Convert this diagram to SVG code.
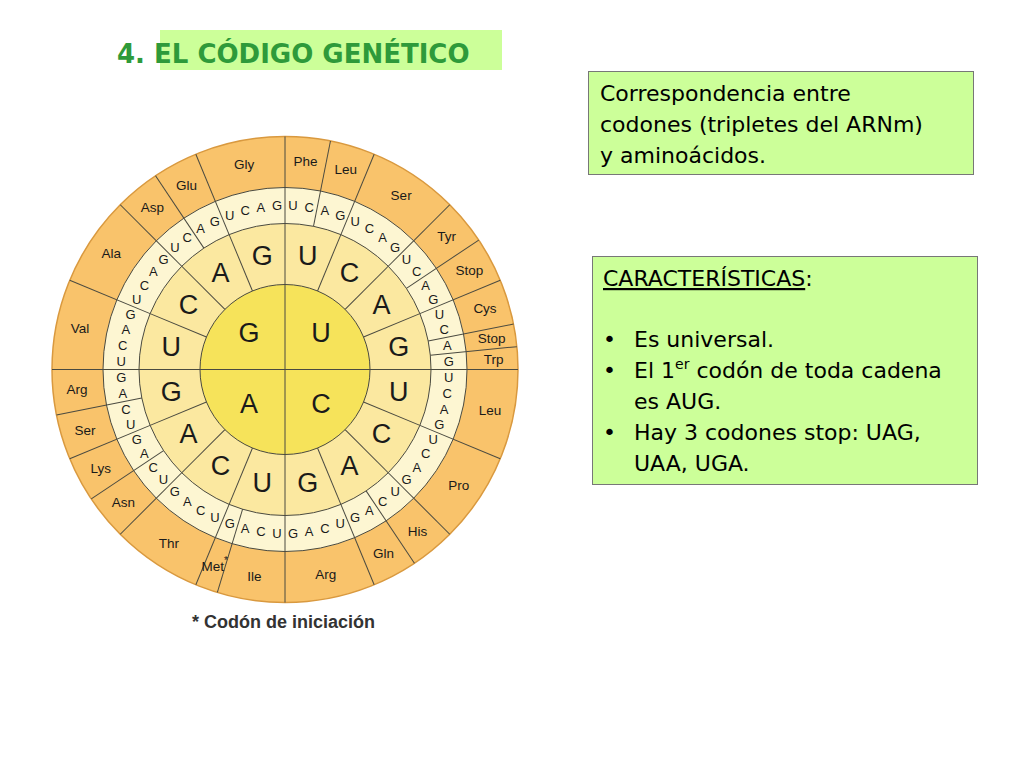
<svg xmlns="http://www.w3.org/2000/svg" xmlns:xlink="http://www.w3.org/1999/xlink" width="1024" height="768" viewBox="0 0 1024 768">
<style>
.w{font-family:"Liberation Sans",Arial,sans-serif;text-anchor:middle;dominant-baseline:central;fill:#1a1a1a}
.s{font-size:13px}.m{font-size:27px}.c{font-size:27px}.aa{font-size:13.5px}
.div{stroke:#4a4a40;stroke-width:1}
.t{font-family:"DejaVu Sans",Verdana,sans-serif;font-size:22px;fill:#000}
</style>
<defs>
<line id="la" class="div" x1="285" y1="223.5" x2="285" y2="136.5"/>
<line id="lb" class="div" x1="285" y1="284.5" x2="285" y2="223.5"/>
</defs>
<rect width="1024" height="768" fill="#fff"/>
<g id="title">
<rect x="160" y="30" width="342" height="40" fill="#ccff99"/>
<text x="117" y="63" font-family="'DejaVu Sans',Verdana,sans-serif" font-weight="bold" font-size="26" fill="#2e9a3a">4. EL CÓDIGO GENÉTICO</text>
</g>
<g id="wheel">
<circle cx="285" cy="369.5" r="233" fill="#f9c36b" stroke="#d9993f" stroke-width="1.5"/>
<circle cx="285" cy="369.5" r="182" fill="#fdf6d2" stroke="#4a4a40"/>
<circle cx="285" cy="369.5" r="146" fill="#fbe8a0" stroke="#4a4a40"/>
<circle cx="285" cy="369.5" r="85" fill="#f6e35a" stroke="#4a4a40"/>
</g>
<g id="connectors">
<line class="div" x1="52" y1="369.5" x2="518" y2="369.5"/>
<line class="div" x1="285" y1="136.5" x2="285" y2="602.5"/>
<use href="#la" transform="rotate(11.25 285 369.5)"/><use href="#la" transform="rotate(22.5 285 369.5)"/><use href="#la" transform="rotate(45 285 369.5)"/><use href="#la" transform="rotate(56.25 285 369.5)"/><use href="#la" transform="rotate(67.5 285 369.5)"/><use href="#la" transform="rotate(78.75 285 369.5)"/><use href="#la" transform="rotate(84.375 285 369.5)"/><use href="#la" transform="rotate(112.5 285 369.5)"/><use href="#la" transform="rotate(135 285 369.5)"/><use href="#la" transform="rotate(146.25 285 369.5)"/><use href="#la" transform="rotate(157.5 285 369.5)"/><use href="#la" transform="rotate(196.875 285 369.5)"/><use href="#la" transform="rotate(202.5 285 369.5)"/><use href="#la" transform="rotate(225 285 369.5)"/><use href="#la" transform="rotate(236.25 285 369.5)"/><use href="#la" transform="rotate(247.5 285 369.5)"/><use href="#la" transform="rotate(258.75 285 369.5)"/><use href="#la" transform="rotate(292.5 285 369.5)"/><use href="#la" transform="rotate(315 285 369.5)"/><use href="#la" transform="rotate(326.25 285 369.5)"/><use href="#la" transform="rotate(337.5 285 369.5)"/>
<use href="#lb" transform="rotate(22.5 285 369.5)"/><use href="#lb" transform="rotate(45 285 369.5)"/><use href="#lb" transform="rotate(67.5 285 369.5)"/><use href="#lb" transform="rotate(112.5 285 369.5)"/><use href="#lb" transform="rotate(135 285 369.5)"/><use href="#lb" transform="rotate(157.5 285 369.5)"/><use href="#lb" transform="rotate(202.5 285 369.5)"/><use href="#lb" transform="rotate(225 285 369.5)"/><use href="#lb" transform="rotate(247.5 285 369.5)"/><use href="#lb" transform="rotate(292.5 285 369.5)"/><use href="#lb" transform="rotate(315 285 369.5)"/><use href="#lb" transform="rotate(337.5 285 369.5)"/>
</g>
<g id="center-letters" class="w c">
<text x="249" y="333">G</text><text x="321" y="333">U</text><text x="321" y="404">C</text><text x="249" y="404">A</text>
</g>
<g id="second-letters" class="w m">
<text transform="rotate(11.25 285 369.5) translate(285 253.5) rotate(-11.25)">U</text>
<text transform="rotate(33.75 285 369.5) translate(285 253.5) rotate(-33.75)">C</text>
<text transform="rotate(56.25 285 369.5) translate(285 253.5) rotate(-56.25)">A</text>
<text transform="rotate(78.75 285 369.5) translate(285 253.5) rotate(-78.75)">G</text>
<text transform="rotate(101.25 285 369.5) translate(285 253.5) rotate(-101.25)">U</text>
<text transform="rotate(123.75 285 369.5) translate(285 253.5) rotate(-123.75)">C</text>
<text transform="rotate(146.25 285 369.5) translate(285 253.5) rotate(-146.25)">A</text>
<text transform="rotate(168.75 285 369.5) translate(285 253.5) rotate(-168.75)">G</text>
<text transform="rotate(191.25 285 369.5) translate(285 253.5) rotate(-191.25)">U</text>
<text transform="rotate(213.75 285 369.5) translate(285 253.5) rotate(-213.75)">C</text>
<text transform="rotate(236.25 285 369.5) translate(285 253.5) rotate(-236.25)">A</text>
<text transform="rotate(258.75 285 369.5) translate(285 253.5) rotate(-258.75)">G</text>
<text transform="rotate(281.25 285 369.5) translate(285 253.5) rotate(-281.25)">U</text>
<text transform="rotate(303.75 285 369.5) translate(285 253.5) rotate(-303.75)">C</text>
<text transform="rotate(326.25 285 369.5) translate(285 253.5) rotate(-326.25)">A</text>
<text transform="rotate(348.75 285 369.5) translate(285 253.5) rotate(-348.75)">G</text>
</g>
<g id="third-letters" class="w s">
<text transform="rotate(2.8125 285 369.5) translate(285 205.5) rotate(-2.8125)">U</text><text transform="rotate(8.4375 285 369.5) translate(285 205.5) rotate(-8.4375)">C</text><text transform="rotate(14.0625 285 369.5) translate(285 205.5) rotate(-14.0625)">A</text><text transform="rotate(19.6875 285 369.5) translate(285 205.5) rotate(-19.6875)">G</text>
<text transform="rotate(25.3125 285 369.5) translate(285 205.5) rotate(-25.3125)">U</text><text transform="rotate(30.9375 285 369.5) translate(285 205.5) rotate(-30.9375)">C</text><text transform="rotate(36.5625 285 369.5) translate(285 205.5) rotate(-36.5625)">A</text><text transform="rotate(42.1875 285 369.5) translate(285 205.5) rotate(-42.1875)">G</text>
<text transform="rotate(47.8125 285 369.5) translate(285 205.5) rotate(-47.8125)">U</text><text transform="rotate(53.4375 285 369.5) translate(285 205.5) rotate(-53.4375)">C</text><text transform="rotate(59.0625 285 369.5) translate(285 205.5) rotate(-59.0625)">A</text><text transform="rotate(64.6875 285 369.5) translate(285 205.5) rotate(-64.6875)">G</text>
<text transform="rotate(70.3125 285 369.5) translate(285 205.5) rotate(-70.3125)">U</text><text transform="rotate(75.9375 285 369.5) translate(285 205.5) rotate(-75.9375)">C</text><text transform="rotate(81.5625 285 369.5) translate(285 205.5) rotate(-81.5625)">A</text><text transform="rotate(87.1875 285 369.5) translate(285 205.5) rotate(-87.1875)">G</text>
<text transform="rotate(92.8125 285 369.5) translate(285 205.5) rotate(-92.8125)">U</text><text transform="rotate(98.4375 285 369.5) translate(285 205.5) rotate(-98.4375)">C</text><text transform="rotate(104.0625 285 369.5) translate(285 205.5) rotate(-104.0625)">A</text><text transform="rotate(109.6875 285 369.5) translate(285 205.5) rotate(-109.6875)">G</text>
<text transform="rotate(115.3125 285 369.5) translate(285 205.5) rotate(-115.3125)">U</text><text transform="rotate(120.9375 285 369.5) translate(285 205.5) rotate(-120.9375)">C</text><text transform="rotate(126.5625 285 369.5) translate(285 205.5) rotate(-126.5625)">A</text><text transform="rotate(132.1875 285 369.5) translate(285 205.5) rotate(-132.1875)">G</text>
<text transform="rotate(137.8125 285 369.5) translate(285 205.5) rotate(-137.8125)">U</text><text transform="rotate(143.4375 285 369.5) translate(285 205.5) rotate(-143.4375)">C</text><text transform="rotate(149.0625 285 369.5) translate(285 205.5) rotate(-149.0625)">A</text><text transform="rotate(154.6875 285 369.5) translate(285 205.5) rotate(-154.6875)">G</text>
<text transform="rotate(160.3125 285 369.5) translate(285 205.5) rotate(-160.3125)">U</text><text transform="rotate(165.9375 285 369.5) translate(285 205.5) rotate(-165.9375)">C</text><text transform="rotate(171.5625 285 369.5) translate(285 205.5) rotate(-171.5625)">A</text><text transform="rotate(177.1875 285 369.5) translate(285 205.5) rotate(-177.1875)">G</text>
<text transform="rotate(182.8125 285 369.5) translate(285 205.5) rotate(-182.8125)">U</text><text transform="rotate(188.4375 285 369.5) translate(285 205.5) rotate(-188.4375)">C</text><text transform="rotate(194.0625 285 369.5) translate(285 205.5) rotate(-194.0625)">A</text><text transform="rotate(199.6875 285 369.5) translate(285 205.5) rotate(-199.6875)">G</text>
<text transform="rotate(205.3125 285 369.5) translate(285 205.5) rotate(-205.3125)">U</text><text transform="rotate(210.9375 285 369.5) translate(285 205.5) rotate(-210.9375)">C</text><text transform="rotate(216.5625 285 369.5) translate(285 205.5) rotate(-216.5625)">A</text><text transform="rotate(222.1875 285 369.5) translate(285 205.5) rotate(-222.1875)">G</text>
<text transform="rotate(227.8125 285 369.5) translate(285 205.5) rotate(-227.8125)">U</text><text transform="rotate(233.4375 285 369.5) translate(285 205.5) rotate(-233.4375)">C</text><text transform="rotate(239.0625 285 369.5) translate(285 205.5) rotate(-239.0625)">A</text><text transform="rotate(244.6875 285 369.5) translate(285 205.5) rotate(-244.6875)">G</text>
<text transform="rotate(250.3125 285 369.5) translate(285 205.5) rotate(-250.3125)">U</text><text transform="rotate(255.9375 285 369.5) translate(285 205.5) rotate(-255.9375)">C</text><text transform="rotate(261.5625 285 369.5) translate(285 205.5) rotate(-261.5625)">A</text><text transform="rotate(267.1875 285 369.5) translate(285 205.5) rotate(-267.1875)">G</text>
<text transform="rotate(272.8125 285 369.5) translate(285 205.5) rotate(-272.8125)">U</text><text transform="rotate(278.4375 285 369.5) translate(285 205.5) rotate(-278.4375)">C</text><text transform="rotate(284.0625 285 369.5) translate(285 205.5) rotate(-284.0625)">A</text><text transform="rotate(289.6875 285 369.5) translate(285 205.5) rotate(-289.6875)">G</text>
<text transform="rotate(295.3125 285 369.5) translate(285 205.5) rotate(-295.3125)">U</text><text transform="rotate(300.9375 285 369.5) translate(285 205.5) rotate(-300.9375)">C</text><text transform="rotate(306.5625 285 369.5) translate(285 205.5) rotate(-306.5625)">A</text><text transform="rotate(312.1875 285 369.5) translate(285 205.5) rotate(-312.1875)">G</text>
<text transform="rotate(317.8125 285 369.5) translate(285 205.5) rotate(-317.8125)">U</text><text transform="rotate(323.4375 285 369.5) translate(285 205.5) rotate(-323.4375)">C</text><text transform="rotate(329.0625 285 369.5) translate(285 205.5) rotate(-329.0625)">A</text><text transform="rotate(334.6875 285 369.5) translate(285 205.5) rotate(-334.6875)">G</text>
<text transform="rotate(340.3125 285 369.5) translate(285 205.5) rotate(-340.3125)">U</text><text transform="rotate(345.9375 285 369.5) translate(285 205.5) rotate(-345.9375)">C</text><text transform="rotate(351.5625 285 369.5) translate(285 205.5) rotate(-351.5625)">A</text><text transform="rotate(357.1875 285 369.5) translate(285 205.5) rotate(-357.1875)">G</text>
</g>
<g id="amino-acids" class="w aa">
<text transform="rotate(5.625 285 369.5) translate(285 160.5) rotate(-5.625)">Phe</text>
<text transform="rotate(16.875 285 369.5) translate(285 160.5) rotate(-16.875)">Leu</text>
<text transform="rotate(33.75 285 369.5) translate(285 160.5) rotate(-33.75)">Ser</text>
<text transform="rotate(50.625 285 369.5) translate(285 160.5) rotate(-50.625)">Tyr</text>
<text transform="rotate(61.875 285 369.5) translate(285 160.5) rotate(-61.875)">Stop</text>
<text transform="rotate(73.125 285 369.5) translate(285 160.5) rotate(-73.125)">Cys</text>
<text transform="rotate(81.5625 285 369.5) translate(285 160.5) rotate(-81.5625)">Stop</text>
<text transform="rotate(87.1875 285 369.5) translate(285 160.5) rotate(-87.1875)">Trp</text>
<text transform="rotate(101.25 285 369.5) translate(285 160.5) rotate(-101.25)">Leu</text>
<text transform="rotate(123.75 285 369.5) translate(285 160.5) rotate(-123.75)">Pro</text>
<text transform="rotate(140.625 285 369.5) translate(285 160.5) rotate(-140.625)">His</text>
<text transform="rotate(151.875 285 369.5) translate(285 160.5) rotate(-151.875)">Gln</text>
<text transform="rotate(168.75 285 369.5) translate(285 160.5) rotate(-168.75)">Arg</text>
<text transform="rotate(188.4375 285 369.5) translate(285 160.5) rotate(-188.4375)">Ile</text>
<text transform="rotate(199.6875 285 369.5) translate(285 160.5) rotate(-199.6875)">Met<tspan dy="-6" font-size="10">*</tspan></text>
<text transform="rotate(213.75 285 369.5) translate(285 160.5) rotate(-213.75)">Thr</text>
<text transform="rotate(230.625 285 369.5) translate(285 160.5) rotate(-230.625)">Asn</text>
<text transform="rotate(241.875 285 369.5) translate(285 160.5) rotate(-241.875)">Lys</text>
<text transform="rotate(253.125 285 369.5) translate(285 160.5) rotate(-253.125)">Ser</text>
<text transform="rotate(264.375 285 369.5) translate(285 160.5) rotate(-264.375)">Arg</text>
<text transform="rotate(281.25 285 369.5) translate(285 160.5) rotate(-281.25)">Val</text>
<text transform="rotate(303.75 285 369.5) translate(285 160.5) rotate(-303.75)">Ala</text>
<text transform="rotate(320.625 285 369.5) translate(285 160.5) rotate(-320.625)">Asp</text>
<text transform="rotate(331.875 285 369.5) translate(285 160.5) rotate(-331.875)">Glu</text>
<text transform="rotate(348.75 285 369.5) translate(285 160.5) rotate(-348.75)">Gly</text>
</g>
<g id="caption">
<text x="192" y="628" font-family="'Liberation Sans Narrow','Liberation Sans',Arial,sans-serif" font-weight="bold" font-size="18" fill="#333">* Codón de iniciación</text>
</g>
<g id="box1">
<rect x="588.5" y="71.5" width="385" height="103" fill="#ccff99" stroke="#777"/>
<text class="t" x="600" y="101">Correspondencia entre</text>
<text class="t" x="600" y="132">codones (tripletes del ARNm)</text>
<text class="t" x="600" y="163">y aminoácidos.</text>
</g>
<g id="box2">
<rect x="592.5" y="256.5" width="385" height="228" fill="#ccff99" stroke="#777"/>
<text class="t" x="603" y="286"><tspan text-decoration="underline">CARACTERÍSTICAS</tspan>:</text>
<text class="t" x="603" y="347">•</text><text class="t" x="634" y="347">Es universal.</text>
<text class="t" x="603" y="378">•</text><text class="t" x="634" y="378">El 1<tspan font-size="14" dy="-9">er</tspan><tspan dy="9"> codón de toda cadena</tspan></text>
<text class="t" x="634" y="409">es AUG.</text>
<text class="t" x="603" y="440">•</text><text class="t" x="634" y="440">Hay 3 codones stop: UAG,</text>
<text class="t" x="634" y="471">UAA, UGA.</text>
</g>
</svg>
